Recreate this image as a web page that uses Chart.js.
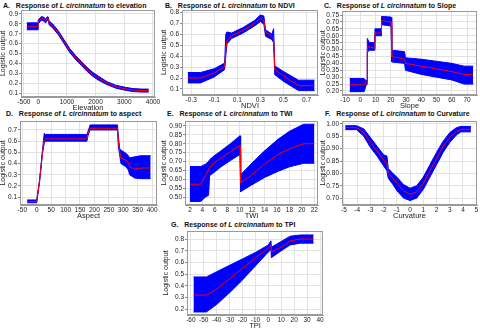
<!DOCTYPE html>
<html>
<head>
<meta charset="utf-8">
<script src="https://cdn.jsdelivr.net/npm/chart.js@4.4.1/dist/chart.umd.min.js"></script>
<style>
  body { margin: 0; background: #fff; }
  #fig { position: relative; width: 480px; height: 332px; overflow: hidden; font-family: "Liberation Sans", Arial, sans-serif; }
  .ttl { position: absolute; font-size: 7px; font-weight: bold; white-space: nowrap; color: #111; line-height: 8px; }
  .box { position: absolute; }
</style>
</head>
<body>
<div id="fig">
  <div class="ttl" style="left:3px;top:2px">A.&nbsp;&nbsp;&nbsp;Response of <i>L circinnatum</i> to elevation</div>
  <div class="ttl" style="left:165px;top:2px">B.&nbsp;&nbsp;&nbsp;Response of <i>L circinnatum</i> to NDVI</div>
  <div class="ttl" style="left:324px;top:2px">C.&nbsp;&nbsp;&nbsp;Response of <i>L circinnatum</i> to Slope</div>
  <div class="ttl" style="left:6px;top:110px">D.&nbsp;&nbsp;&nbsp;Response of <i>L circinnatum</i> to aspect</div>
  <div class="ttl" style="left:167px;top:110px">E.&nbsp;&nbsp;&nbsp;Response of <i>L circinnatum</i> to TWI</div>
  <div class="ttl" style="left:325px;top:110px">F.&nbsp;&nbsp;&nbsp;Response of <i>L circinnatum</i> to Curvature</div>
  <div class="ttl" style="left:171px;top:221px">G.&nbsp;&nbsp;&nbsp;Response of <i>L circinnatum</i> to TPI</div>
</div>
<script>
// ---- data ----
// A. elevation
const elevX    = [-400, -5, 0, 60, 120, 200, 260, 330, 350, 380, 500, 700, 900, 1100, 1300, 1500, 1700, 1900, 2100, 2400, 2700, 3000, 3300, 3600, 3850];
const elevMean = [0.77, 0.77, 0.82, 0.84, 0.86, 0.845, 0.83, 0.86, 0.85, 0.81, 0.78, 0.71, 0.62, 0.53, 0.46, 0.40, 0.34, 0.29, 0.25, 0.20, 0.165, 0.145, 0.13, 0.125, 0.125];
const elevLo   = [0.74, 0.74, 0.80, 0.82, 0.84, 0.825, 0.81, 0.84, 0.83, 0.79, 0.76, 0.69, 0.60, 0.51, 0.44, 0.38, 0.32, 0.27, 0.23, 0.185, 0.15, 0.13, 0.115, 0.11, 0.11];
const elevHi   = [0.81, 0.81, 0.84, 0.86, 0.875, 0.865, 0.85, 0.875, 0.87, 0.83, 0.80, 0.73, 0.64, 0.55, 0.48, 0.42, 0.36, 0.31, 0.27, 0.215, 0.18, 0.16, 0.145, 0.14, 0.14];
const elevTicksX = [-500, 0, 1000, 2000, 3000, 4000];
const elevTicksY = [0.1, 0.2, 0.3, 0.4, 0.5, 0.6, 0.7, 0.8, 0.9];

// B. NDVI
const ndviX    = [-0.33, -0.22, -0.1, -0.01, 0.0, 0.01, 0.05, 0.15, 0.25, 0.3, 0.33, 0.345, 0.4, 0.415, 0.425, 0.5, 0.63, 0.77];
const ndviMean = [0.20, 0.20, 0.245, 0.306, 0.45, 0.54, 0.585, 0.635, 0.70, 0.745, 0.72, 0.62, 0.575, 0.56, 0.28, 0.22, 0.13, 0.13];
const ndviLo   = [0.155, 0.155, 0.21, 0.276, 0.40, 0.51, 0.56, 0.61, 0.675, 0.715, 0.69, 0.58, 0.55, 0.52, 0.23, 0.17, 0.085, 0.085];
const ndviHi   = [0.25, 0.25, 0.285, 0.336, 0.60, 0.62, 0.61, 0.66, 0.725, 0.775, 0.765, 0.64, 0.60, 0.65, 0.31, 0.26, 0.18, 0.18];
const ndviTicksX = [-0.3, -0.1, 0.1, 0.3, 0.5, 0.7];
const ndviTicksY = [0.1, 0.2, 0.3, 0.4, 0.5, 0.6, 0.7, 0.8];

// C. slope
const slopeX    = [-7, 2.5, 3.8, 4.4, 4.6, 6, 9.4, 9.6, 13.7, 13.9, 20.2, 20.6, 29, 29.6, 40, 50, 60, 68, 74];
const slopeMean = [0.245, 0.245, 0.26, 0.26, 0.52, 0.52, 0.51, 0.62, 0.62, 0.71, 0.70, 0.45, 0.43, 0.40, 0.38, 0.36, 0.34, 0.32, 0.32];
const slopeLo   = [0.195, 0.195, 0.24, 0.25, 0.48, 0.495, 0.495, 0.60, 0.60, 0.68, 0.67, 0.41, 0.40, 0.35, 0.32, 0.30, 0.28, 0.25, 0.25];
const slopeHi   = [0.29, 0.29, 0.275, 0.275, 0.58, 0.55, 0.55, 0.65, 0.65, 0.74, 0.735, 0.495, 0.485, 0.44, 0.43, 0.415, 0.40, 0.38, 0.38];
const slopeTicksX = [-10, 0, 10, 20, 30, 40, 50, 60, 70];
const slopeTicksY = [0.20, 0.25, 0.30, 0.35, 0.40, 0.45, 0.50, 0.55, 0.60, 0.65, 0.70, 0.75];

// D. aspect
const aspX    = [-33, 0, 10, 20, 26, 30, 100, 174, 178, 182, 185, 280, 283, 288, 292, 310, 318, 322, 340, 360, 395];
const aspMean = [0.06, 0.06, 0.25, 0.50, 0.61, 0.62, 0.62, 0.62, 0.67, 0.70, 0.715, 0.715, 0.60, 0.50, 0.45, 0.43, 0.41, 0.37, 0.35, 0.36, 0.36];
const aspLo   = [0.05, 0.05, 0.24, 0.49, 0.58, 0.60, 0.60, 0.60, 0.65, 0.68, 0.70, 0.70, 0.55, 0.47, 0.40, 0.37, 0.34, 0.30, 0.27, 0.265, 0.265];
const aspHi   = [0.075, 0.075, 0.26, 0.52, 0.67, 0.66, 0.66, 0.66, 0.69, 0.72, 0.745, 0.745, 0.64, 0.53, 0.52, 0.49, 0.47, 0.45, 0.46, 0.47, 0.47];
const aspTicksX = [-50, 0, 50, 100, 150, 200, 250, 300, 350, 400];
const aspTicksY = [0.1, 0.2, 0.3, 0.4, 0.5, 0.6, 0.7];

// E. TWI
const twiX    = [2, 3.75, 4.5, 5.0, 5.15, 5.8, 7, 8.5, 10.05, 10.15, 11.8, 14, 16.2, 18, 20.3, 22];
const twiMean = [0.572, 0.572, 0.62, 0.655, 0.665, 0.69, 0.72, 0.755, 0.79, 0.58, 0.62, 0.685, 0.74, 0.77, 0.80, 0.80];
const twiLo   = [0.475, 0.475, 0.50, 0.51, 0.62, 0.636, 0.67, 0.705, 0.74, 0.53, 0.565, 0.61, 0.645, 0.67, 0.69, 0.69];
const twiHi   = [0.672, 0.672, 0.685, 0.70, 0.71, 0.73, 0.76, 0.80, 0.845, 0.625, 0.685, 0.76, 0.826, 0.87, 0.91, 0.91];
const twiTicksX = [2, 4, 6, 8, 10, 12, 14, 16, 18, 20, 22];
const twiTicksY = [0.50, 0.55, 0.60, 0.65, 0.70, 0.75, 0.80, 0.85, 0.90];

// F. curvature
const curvX    = [-4.9, -4.05, -3.5, -3, -2.5, -2, -1.75, -1.65, -1.3, -1, -0.5, 0, 0.5, 1, 1.5, 2, 2.5, 3, 3.5, 3.85, 4.6];
const curvMean = [0.985, 0.985, 0.965, 0.925, 0.89, 0.855, 0.84, 0.80, 0.78, 0.76, 0.73, 0.715, 0.725, 0.76, 0.81, 0.86, 0.91, 0.945, 0.97, 0.978, 0.978];
const curvLo   = [0.977, 0.977, 0.95, 0.905, 0.87, 0.83, 0.81, 0.78, 0.755, 0.73, 0.70, 0.69, 0.70, 0.735, 0.785, 0.835, 0.885, 0.925, 0.955, 0.968, 0.968];
const curvHi   = [0.993, 0.993, 0.98, 0.945, 0.91, 0.875, 0.87, 0.82, 0.80, 0.785, 0.755, 0.74, 0.75, 0.785, 0.835, 0.885, 0.93, 0.965, 0.985, 0.99, 0.99];
const curvTicksX = [-5, -4, -3, -2, -1, 0, 1, 2, 3, 4, 5];
const curvTicksY = [0.70, 0.75, 0.80, 0.85, 0.90, 0.95, 1.00];

// G. TPI
const tpiX    = [-58, -48, -40, -30, -20, -10, 0, 2, 2.3, 10, 17, 25, 35];
const tpiMean = [0.32, 0.32, 0.37, 0.46, 0.55, 0.64, 0.72, 0.75, 0.69, 0.73, 0.785, 0.80, 0.80];
const tpiLo   = [0.175, 0.175, 0.24, 0.34, 0.45, 0.57, 0.69, 0.71, 0.64, 0.70, 0.75, 0.765, 0.765];
const tpiHi   = [0.475, 0.475, 0.52, 0.575, 0.63, 0.685, 0.75, 0.785, 0.73, 0.78, 0.825, 0.835, 0.835];
const tpiTicksX = [-60, -50, -40, -30, -20, -10, 0, 10, 20, 30, 40];
const tpiTicksY = [0.2, 0.3, 0.4, 0.5, 0.6, 0.7, 0.8];

// ---- drawing ----
const PT = 5, PR = 9, XH = 15;
const TXT = '#222';

const frame = {
  id: 'frame',
  afterDraw(c) {
    const a = c.chartArea, ctx = c.ctx;
    ctx.save();
    ctx.strokeStyle = '#9a9a9a';
    ctx.lineWidth = 1;
    ctx.strokeRect(a.left + 0.5, a.top + 0.5, a.right - a.left - 1, a.bottom - a.top - 1);
    ctx.restore();
  }
};

const pts = (xs, ys) => xs.map((x, i) => ({ x, y: ys[i] }));

function panel(p) {
  const [l, t, r, b] = p.rect;
  const box = document.createElement('div');
  box.className = 'box';
  const w = r - l + p.yw + PR, h = b - t + PT + XH;
  box.style.left = (l - p.yw) + 'px';
  box.style.top = (t - PT) + 'px';
  const cv = document.createElement('canvas');
  cv.width = w; cv.height = h;
  cv.style.width = w + 'px'; cv.style.height = h + 'px';
  box.appendChild(cv);
  document.getElementById('fig').appendChild(box);

  const fnt = { family: '"Liberation Sans", Arial, sans-serif', size: 6.5, lineHeight: 1 };
  new Chart(cv, {
    type: 'line',
    data: {
      datasets: [
        { data: pts(p.x, p.mean), borderColor: '#ff0000', borderWidth: 1, fill: false, order: 0 },
        { data: pts(p.x, p.lo), borderColor: '#0000ff', borderWidth: 1, fill: false, order: 1 },
        { data: pts(p.x, p.hi), borderColor: '#0000ff', borderWidth: 1, backgroundColor: '#0000ff', fill: 1, order: 2 },
      ]
    },
    options: {
      responsive: false,
      animation: false,
      events: [],
      layout: { padding: { top: PT, right: PR, left: 0, bottom: 0 } },
      elements: { point: { radius: 0 }, line: { tension: 0 } },
      plugins: { legend: { display: false }, tooltip: { enabled: false } },
      scales: {
        x: {
          type: 'linear', min: p.xr[0], max: p.xr[1],
          afterBuildTicks: s => { s.ticks = p.xt.map(v => ({ value: v })); },
          afterFit: s => { s.height = XH; },
          ticks: { font: fnt, color: TXT, padding: 1, autoSkip: false, maxRotation: 0,
                   callback: v => v.toFixed(p.xd) },
          grid: { color: '#e2e2e2', tickLength: 1, tickColor: '#888' },
          border: { color: '#9a9a9a' },
          title: { display: true, text: p.xTitle, font: { ...fnt, size: 7.5 }, color: TXT, padding: 0 }
        },
        y: {
          type: 'linear', min: p.yr[0], max: p.yr[1],
          afterBuildTicks: s => { s.ticks = p.yt.map(v => ({ value: v })); },
          afterFit: s => { s.width = p.yw; },
          ticks: { font: fnt, color: TXT, padding: 1, autoSkip: false, callback: v => v.toFixed(p.yd) },
          grid: { color: '#e2e2e2', tickLength: 2, tickColor: '#888' },
          border: { color: '#9a9a9a' },
          title: { display: true, text: 'Logistic output', font: { ...fnt, size: 7 }, color: TXT, padding: 0 }
        }
      }
    },
    plugins: [frame]
  });
}

panel({ rect: [21, 10, 155, 97], yw: 21, x: elevX, mean: elevMean, lo: elevLo, hi: elevHi,
        xr: [-600, 4070], yr: [0.06, 0.94], xt: elevTicksX, yt: elevTicksY, xd: 0, yd: 1, xTitle: 'Elevation' });
panel({ rect: [182, 10, 318, 95], yw: 21, x: ndviX, mean: ndviMean, lo: ndviLo, hi: ndviHi,
        xr: [-0.38, 0.80], yr: [0.045, 0.82], xt: ndviTicksX, yt: ndviTicksY, xd: 1, yd: 1, xTitle: 'NDVI' });
panel({ rect: [342, 11, 477, 95], yw: 22, x: slopeX, mean: slopeMean, lo: slopeLo, hi: slopeHi,
        xr: [-12, 76.5], yr: [0.171, 0.779], xt: slopeTicksX, yt: slopeTicksY, xd: 0, yd: 2, xTitle: 'Slope' });
panel({ rect: [20, 121, 157, 205], yw: 20, x: aspX, mean: aspMean, lo: aspLo, hi: aspHi,
        xr: [-58, 417], yr: [0.03, 0.78], xt: aspTicksX, yt: aspTicksY, xd: 0, yd: 1, xTitle: 'Aspect' });
panel({ rect: [185, 121, 318, 205], yw: 24, x: twiX, mean: twiMean, lo: twiLo, hi: twiHi,
        xr: [1.2, 22.6], yr: [0.455, 0.928], xt: twiTicksX, yt: twiTicksY, xd: 0, yd: 2, xTitle: 'TWI' });
panel({ rect: [342, 121, 477, 205], yw: 22, x: curvX, mean: curvMean, lo: curvLo, hi: curvHi,
        xr: [-5.15, 5.06], yr: [0.672, 1.012], xt: curvTicksX, yt: curvTicksY, xd: 0, yd: 2, xTitle: 'Curvature' });
panel({ rect: [187, 231, 323, 315], yw: 24, x: tpiX, mean: tpiMean, lo: tpiLo, hi: tpiHi,
        xr: [-63, 42.3], yr: [0.149, 0.869], xt: tpiTicksX, yt: tpiTicksY, xd: 0, yd: 1, xTitle: 'TPI' });
</script>
</body>
</html>
